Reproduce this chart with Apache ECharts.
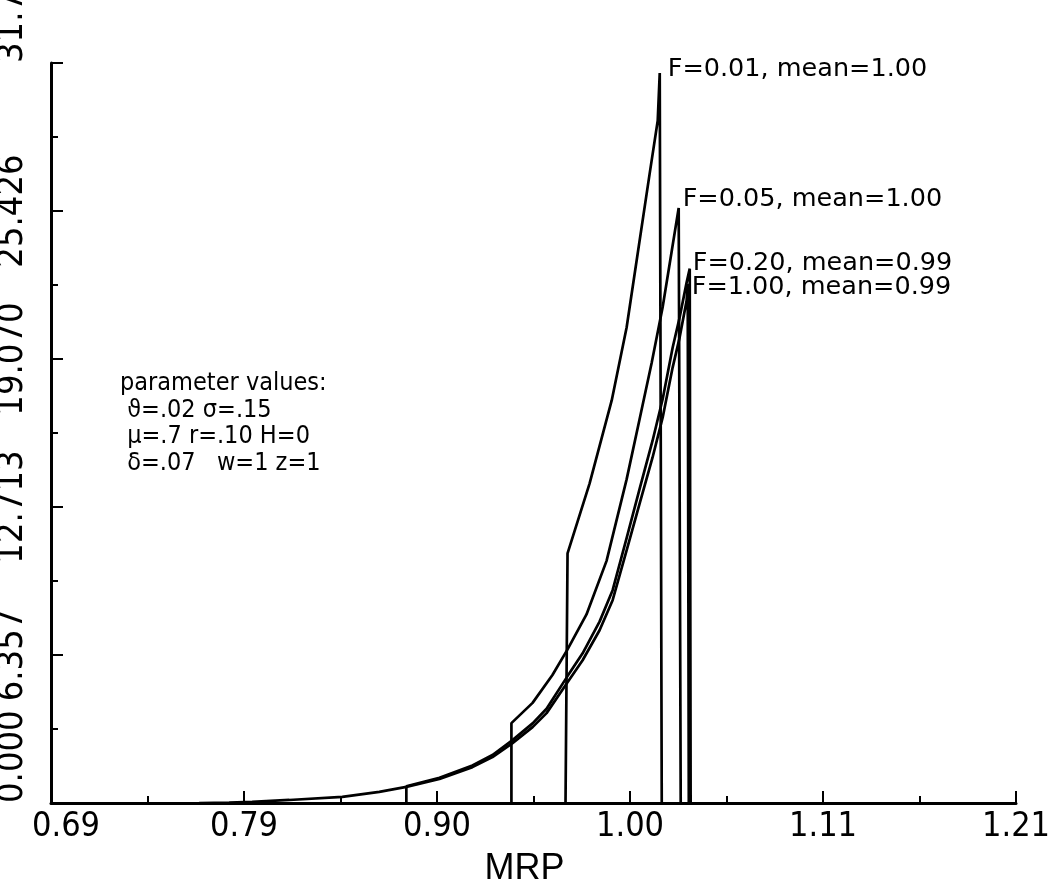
<!DOCTYPE html>
<html>
<head>
<meta charset="utf-8">
<script src="https://cdn.jsdelivr.net/npm/echarts@6/dist/echarts.min.js"></script>
<style>
html,body{margin:0;padding:0;background:#fff;}
#chart{width:1061px;height:892px;}
</style>
</head>
<body>
<div id="chart"></div>
<script>
// ---- axis ticks / labels ----
const xTickValues = [0.686, 0.79088, 0.89576, 1.00064, 1.10552, 1.2104];
const xTickLabels = ['0.69', '0.79', '0.90', '1.00', '1.11', '1.21'];
const xMinorValues = [0.73844, 0.84332, 0.9482, 1.05308, 1.15796];
const yTickValues = [0, 6.3566, 12.7132, 19.0698, 25.4264, 31.783];
const yTickLabels = ['0.000', '6.357', '12.713', '19.070', '25.426', '31.783'];

// ---- series: F=0.01 ----
const f001X = [0.9656, 0.9667, 0.9787, 0.9907, 0.9988, 1.0048, 1.0113, 1.0157, 1.0168, 1.0179];
const f001Y = [0, 10.72, 13.73, 17.29, 20.42, 23.59, 27.02, 29.30, 31.35, 0];
// ---- series: F=0.05 ----
const f005X = [0.9362, 0.9362, 0.9477, 0.9585, 0.9667, 0.9770, 0.9879, 0.9988, 1.0059, 1.0124, 1.0184, 1.0233, 1.0271, 1.0282];
const f005Y = [0, 3.43, 4.30, 5.50, 6.60, 8.10, 10.40, 13.90, 16.50, 18.90, 21.30, 23.70, 25.56, 0];
// ---- series: F=0.20 ----
const f020X = [0.8791, 0.8791, 0.8971, 0.9150, 0.9259, 0.9368, 0.9477, 0.9553, 0.9667, 0.9749, 0.9841, 0.9912, 0.9988, 1.0059, 1.0129, 1.0184, 1.0238, 1.0276, 1.0314, 1.0331, 1.0336];
const f020Y = [0, 0.72, 1.08, 1.61, 2.06, 2.70, 3.42, 4.05, 5.45, 6.43, 7.79, 9.14, 11.38, 13.50, 15.56, 17.35, 19.55, 20.85, 22.35, 22.95, 0];
// ---- series: F=1.00 ----
const f100X = [0.7665, 0.7828, 0.7953, 0.8155, 0.8443, 0.8644, 0.8791, 0.8971, 0.9150, 0.9259, 0.9368, 0.9477, 0.9553, 0.9667, 0.9749, 0.9841, 0.9912, 0.9988, 1.0059, 1.0129, 1.0184, 1.0238, 1.0276, 1.0314, 1.0320, 1.0326];
const f100Y = [0, 0.02, 0.05, 0.13, 0.26, 0.48, 0.69, 1.03, 1.54, 1.97, 2.57, 3.26, 3.86, 5.19, 6.13, 7.42, 8.71, 10.85, 12.87, 14.84, 16.56, 18.70, 19.99, 21.57, 22.30, 0];

const seriesNames = ['F=0.01, mean=1.00', 'F=0.05, mean=1.00', 'F=0.20, mean=0.99', 'F=1.00, mean=0.99'];
const paramLines = ['parameter values:', ' \u03D1=.02 \u03C3=.15', ' \u03BC=.7 r=.10 H=0', ' \u03B4=.07   w=1 z=1'];

const xTitle = 'MRP';

function zip(xs, ys) { return xs.map((x, i) => [x, ys[i]]); }
function peakIndex(ys) { let m = 0; ys.forEach((v, i) => { if (v > ys[m]) m = i; }); return m; }
function nearestIndex(arr, v) { let b = 0; arr.forEach((t, i) => { if (Math.abs(t - v) < Math.abs(arr[b] - v)) b = i; }); return b; }

const narrow = "'DejaVu Sans Condensed', 'Liberation Sans Narrow', 'Liberation Sans', sans-serif";

const lineSets = [[f001X, f001Y], [f005X, f005Y], [f020X, f020Y], [f100X, f100Y]];
const labelOffsets = [[2, -4], [-2, -9], [-3, -5], [-2, 4]];

const series = lineSets.map((s, k) => {
  const pi = peakIndex(s[1]);
  return {
    type: 'line',
    name: seriesNames[k],
    xAxisIndex: 0,
    data: zip(s[0], s[1]),
    symbol: 'none',
    animation: false,
    lineStyle: { color: '#000', width: 2.7 },
    z: 3,
    markPoint: {
      symbol: 'circle', symbolSize: 0,
      animation: false,
      itemStyle: { color: 'rgba(0,0,0,0)' },
      data: [{
        coord: [s[0][pi], s[1][pi]],
        label: {
          show: true, position: 'right', distance: 6,
          offset: labelOffsets[k],
          formatter: seriesNames[k],
          color: '#000', fontFamily: 'DejaVu Sans', fontSize: 25.5
        }
      }]
    }
  };
});

const chart = echarts.init(document.getElementById('chart'), null, { renderer: 'canvas' });
chart.setOption({
  backgroundColor: '#fff',
  animation: false,
  grid: { left: 51, right: 45, top: 63, bottom: 89, containLabel: false, outerBoundsMode: 'none' },
  xAxis: [{
    type: 'value', min: xTickValues[0], max: xTickValues[xTickValues.length - 1],
    position: 'bottom',
    name: xTitle, nameLocation: 'middle', nameGap: 46,
    nameTextStyle: { fontFamily: "'Liberation Sans', sans-serif", fontSize: 36, color: '#000', lineHeight: 36, padding: [0, 18, 0, 0] },
    axisLine: { show: true, lineStyle: { color: '#000', width: 3 } },
    axisTick: { show: true, inside: true, length: 12, customValues: xTickValues, lineStyle: { color: '#000', width: 2 } },
    axisLabel: {
      show: true, customValues: xTickValues, margin: 6, showMinLabel: true, showMaxLabel: true, hideOverlap: false,
      formatter: v => { const b = nearestIndex(xTickValues, v); return b === 0 ? '{first|' + xTickLabels[b] + '}' : xTickLabels[b]; },
      rich: { first: { padding: [0, 0, 0, 30], fontFamily: narrow, fontSize: 34, color: '#000' } },
      fontFamily: narrow, fontSize: 34, color: '#000', lineHeight: 37
    },
    splitLine: { show: false }
  }, {
    type: 'value', min: xTickValues[0], max: xTickValues[xTickValues.length - 1],
    position: 'bottom',
    axisLine: { show: false },
    axisTick: { show: true, inside: true, length: 7, customValues: xMinorValues, lineStyle: { color: '#000', width: 2 } },
    axisLabel: { show: false },
    splitLine: { show: false }
  }],
  yAxis: {
    type: 'value', min: yTickValues[0], max: yTickValues[yTickValues.length - 1], interval: yTickValues[1],
    axisLine: { show: true, lineStyle: { color: '#000', width: 3 } },
    axisTick: { show: true, inside: true, length: 12, lineStyle: { color: '#000', width: 2 } },
    minorTick: { show: true, splitNumber: 2, length: 7, lineStyle: { color: '#000', width: 2 } },
    axisLabel: {
      show: true, rotate: 90, margin: 20, showMinLabel: true, showMaxLabel: true, hideOverlap: false,
      formatter: v => yTickLabels[nearestIndex(yTickValues, v)],
      alignMinLabel: 'left', alignMaxLabel: 'left',
      fontFamily: narrow, fontSize: 36, color: '#000'
    },
    splitLine: { show: false }
  },
  graphic: paramLines.map((t, i) => ({
    type: 'text', left: 120, top: 371 + i * 26.5,
    style: { text: t, fill: '#000', font: "25px 'DejaVu Sans Condensed', 'DejaVu Sans'" }
  })),
  series: series
});
</script>
</body>
</html>
